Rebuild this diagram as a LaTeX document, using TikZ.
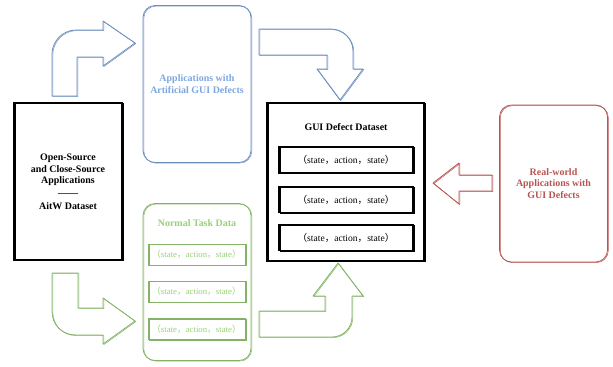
\documentclass[tikz,border=0pt]{standalone}
\usepackage{fontspec}
\setmainfont{Liberation Serif}
\newfontfamily\cjk{Noto Sans CJK SC}

\definecolor{defblue}{HTML}{6C8EBF}
\definecolor{defbluetext}{HTML}{7EA6E0}
\definecolor{defgreen}{HTML}{82B366}
\definecolor{defgreentext}{HTML}{97D077}
\definecolor{defred}{HTML}{B85450}

\newcommand{\sastriple}{{\cjk （}state{\cjk ，}action{\cjk ，}state{\cjk ）}}

\begin{document}
\begin{tikzpicture}[
			x=1bp, y=-1bp,
			every node/.style={align=center, font=\fontsize{10}{11.7}\selectfont\bfseries},
			rough/.style={draw=#1, preaction={draw=#1, line width=0.5pt, transform canvas={shift={(0.8bp,-0.6bp)}}}},
			rough/.default=black,
			bigbox/.style={rough, line width=1.1pt, minimum width=108bp, minimum height=157bp},
			appbox/.style={rough=#1, text=#1, line width=0.8pt, rounded corners=12bp, minimum width=108bp, minimum height=157bp},
			tuplebox/.style={rough, line width=1.1pt, minimum width=134bp, minimum height=26bp, font=\fontsize{9.6}{10}\selectfont},
			smalltuple/.style={rough=defgreen, line width=0.8pt, text=defgreentext, minimum width=97bp, minimum height=21bp, font=\fontsize{8.8}{10}\selectfont},
			blockarrow/.style={rough=#1, line width=0.8pt, line join=round}]
	\useasboundingbox (0,0) rectangle (613,366);

	% boxes
	\node[bigbox](source) at (68,181.5) {Open-Source\\and Close-Source\\Applications\\[1pt]——\\[1pt]AitW Dataset};
	\node[appbox=defblue, text=defbluetext](artificial) at (197,84) {Applications with\\Artificial GUI Defects};
	\node[appbox=defgreen](normal) at (197,282) {};
	\node[text=defgreentext](normaltitle) at (197,223) {Normal Task Data};
	\node[smalltuple](n1) at (196.5,254.5) {\sastriple};
	\node[smalltuple](n2) at (196.5,291.5) {\sastriple};
	\node[smalltuple](n3) at (196.5,329) {\sastriple};
	\node[bigbox, minimum width=157bp, minimum height=158bp](dataset) at (345.5,182) {};
	\node(datasettitle) at (346,127) {GUI Defect Dataset};
	\node[tuplebox](d1) at (346,160) {\sastriple};
	\node[tuplebox](d2) at (346,199.5) {\sastriple};
	\node[tuplebox](d3) at (346,237.5) {\sastriple};
	\node[appbox=defred](realworld) at (553.5,183.5) {Real-world\\Applications with\\GUI Defects};

	% block arrows
	\draw[blockarrow=defblue] (52,96) -- (52,54) .. controls (52,42) and (62,30) .. (76,30) -- (103,30) -- (103,21) -- (135,43) -- (103,66) -- (103,57) -- (77,57) -- (77,96) -- cycle;
	\draw[blockarrow=defblue] (259,29) -- (331,29) .. controls (343,29) and (353,39) .. (353,51) -- (353,69) -- (363,69) -- (340,100) -- (317,69) -- (327,69) -- (327,55) -- (259,55) -- cycle;
	\draw[blockarrow=defgreen] (52,273) -- (78,273) -- (78,308) -- (103,308) -- (103,298) -- (135,321) -- (103,344) -- (103,335) -- (76,335) .. controls (62,335) and (52,325) .. (52,311) -- cycle;
	\draw[blockarrow=defgreen] (259,311) -- (325,311) -- (325,296) -- (313,296) -- (338,263) -- (363,296) -- (352,296) -- (352,317) .. controls (352,328) and (343,337) .. (332,337) -- (259,337) -- cycle;
	\draw[blockarrow=defred] (492,175) -- (459,175) -- (459,163) -- (433,183) -- (459,204) -- (459,191) -- (492,191) -- cycle;
\end{tikzpicture}
\end{document}
